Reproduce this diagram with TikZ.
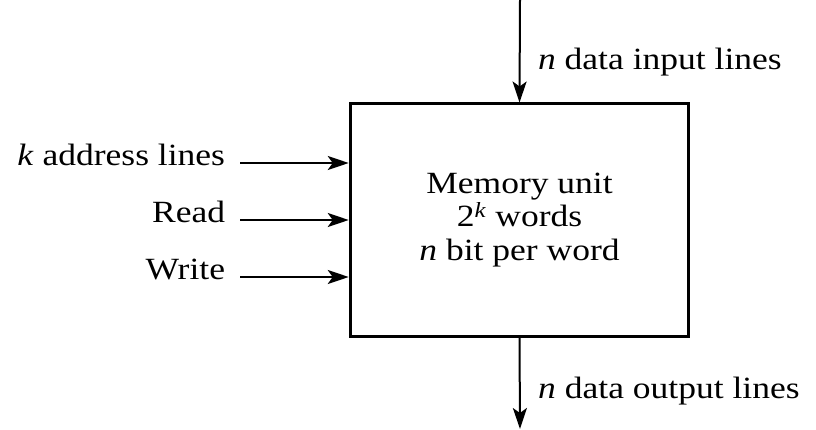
\documentclass[tikz,border=0pt]{standalone}
\usepackage{fontspec}
\setmainfont{Liberation Serif}
\usetikzlibrary{arrows.meta}

\begin{document}
\begin{tikzpicture}[x=1bp, y=1bp, line width=2bp,
  >={Stealth[length=21bp,width=14bp,inset=5bp]},
  every node/.style={xscale=1.15, font=\fontsize{31}{34}\selectfont}]
\useasboundingbox (0,0) rectangle (816,429);
\node[draw, line width=3bp, minimum width=294bp, minimum height=232bp, align=center] (mem) at (519.5,209)
  {Memory unit\\2\textsuperscript{\textit{k}} words\\\textit{n} bit per word};
\coordinate (tin) at (520,429);
\coordinate (tout) at (520,0);
\node[anchor=mid east, inner xsep=12bp] (addr) at (240,266) {\textit{k} address lines};
\node[anchor=mid east, inner xsep=12bp] (rd) at (240,209) {Read};
\node[anchor=mid east, inner xsep=12bp] (wr) at (240,152) {Write};
\draw[->] (tin) -- node[anchor=mid west, pos=0.66, inner xsep=15bp] (din) {\textit{n} data input lines} (mem.north);
\draw[->] (mem.south) -- node[anchor=mid west, pos=0.64, inner xsep=15bp] (dout) {\textit{n} data output lines} (tout);
\draw[->] (addr.mid east) -- (addr.mid east -| mem.west);
\draw[->] (rd.mid east) -- (rd.mid east -| mem.west);
\draw[->] (wr.mid east) -- (wr.mid east -| mem.west);
\end{tikzpicture}
\end{document}
